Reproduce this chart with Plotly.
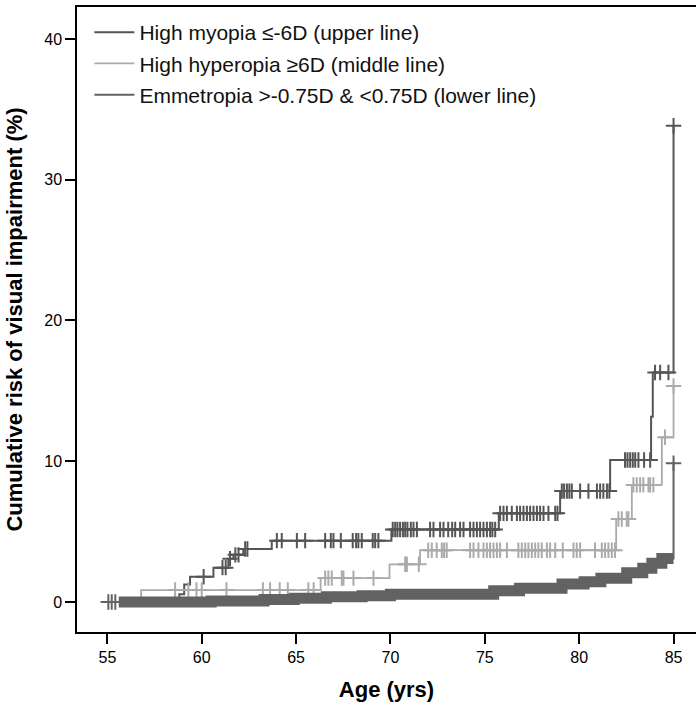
import plotly.graph_objects as go

# ---- data ----
myo_x = [55, 58.81, 59.07, 59.38, 60.62, 61.41, 61.68, 62.2, 63.71, 70.05, 75.74, 78.99, 81.64, 83.81, 83.9, 85.0]
myo_y = [0, 0.55, 1.25, 1.8, 2.44, 3.08, 3.35, 3.77, 4.36, 5.15, 6.3, 7.88, 10.09, 13.17, 16.3, 33.83]
myo_cens = [60.1, 61.1, 61.27, 61.5, 61.78, 61.95, 62.3, 62.42, 63.98, 64.24, 65.04, 65.48, 66.54, 66.84,
            66.98, 67.37, 68.0, 68.18, 68.3, 68.48, 69.06, 69.19, 69.36, 70.12, 70.25, 70.37, 70.51, 70.66,
            70.78, 70.9, 71.08, 71.22, 71.4, 72.1, 72.28, 72.63, 72.81, 73.06, 73.27, 73.43, 73.69, 73.87,
            74.22, 74.4, 74.58, 74.75, 74.93, 75.11, 75.28, 75.4, 75.55, 75.81, 75.99, 76.17, 76.43, 76.7,
            76.87, 77.05, 77.23, 77.4, 77.58, 77.76, 77.93, 78.11, 78.37, 78.73, 78.85, 79.08, 79.2, 79.35,
            79.48, 79.61, 80.05, 80.49, 80.94, 81.11, 81.28, 81.47, 81.6, 82.43, 82.56, 82.7, 82.84, 82.97,
            83.14, 83.44, 83.76, 84.02, 84.29, 84.73, 85.0]

hyp_x = [55, 56.79, 66.3, 69.95, 71.57, 81.96, 82.79, 84.38, 85.0]
hyp_y = [0, 0.85, 1.7, 2.68, 3.68, 5.9, 8.32, 11.7, 15.35]
hyp_cens = [58.59, 59.29, 59.72, 60.0, 61.31, 63.24, 63.62, 64.13, 64.56, 65.65, 65.93, 66.54, 66.71, 66.89,
            67.42, 67.51, 68.04, 69.1, 70.78, 70.87, 71.5, 72.0, 72.19, 72.45, 72.72, 72.84, 72.98, 74.22,
            74.4, 74.66, 74.93, 75.11, 75.28, 75.46, 75.64, 75.81, 76.17, 76.78, 76.96, 77.14, 77.31, 77.49,
            77.67, 77.84, 78.02, 78.29, 78.46, 78.73, 79.13, 79.7, 79.87, 80.05, 80.84, 81.2, 81.37, 81.55,
            81.73, 81.9, 82.08, 82.26, 82.52, 82.61, 82.87, 83.05, 83.23, 83.4, 83.67, 83.76, 83.93, 84.55, 85.0]

emm_x = [55, 60.5, 63.3, 64.9, 66.6, 68.5, 70.0, 75.47, 76.84, 79.09, 80.26, 81.15, 82.52, 83.37, 83.85, 84.38, 85.0]
emm_y = [0, 0.08, 0.17, 0.26, 0.38, 0.45, 0.55, 0.8, 0.97, 1.28, 1.44, 1.68, 2.08, 2.39, 2.75, 3.1, 9.86]
emm_cens = [55.05, 55.23, 55.42, 85.0]
emm_dense_from = 55.6   # censoring so dense from here that marks merge into a band
emm_dense_to = 85.0

names = ["High myopia \u2264-6D (upper line)",
         "High hyperopia \u22656D (middle line)",
         "Emmetropia >-0.75D & <0.75D (lower line)"]
x_ticks = [55, 60, 65, 70, 75, 80, 85]
y_ticks = [0, 10, 20, 30, 40]

FONT = "Arial, 'Liberation Sans', Helvetica, sans-serif"


def step_at(xs, ys, t):
    v = ys[0]
    for a, b in zip(xs, ys):
        if a <= t:
            v = b
    return v


fig = go.Figure()

series = [
    (myo_x, myo_y, myo_cens, "#555555", 2.0),
    (hyp_x, hyp_y, hyp_cens, "#ababab", 1.8),
    (emm_x, emm_y, emm_cens, "#626262", 2.0),
]

for i, (xs, ys, cens, col, w) in enumerate(series):
    fig.add_trace(go.Scatter(
        x=xs, y=ys, mode="lines", line=dict(shape="hv", color=col, width=w),
        name=names[i], legendgroup=f"g{i}", showlegend=True, hoverinfo="skip"))
    fig.add_trace(go.Scatter(
        x=cens, y=[step_at(xs, ys, t) for t in cens], mode="markers",
        marker=dict(symbol="cross-thin", size=11, line=dict(color=col, width=2)),
        legendgroup=f"g{i}", showlegend=False, hoverinfo="skip"))

# dense band of emmetropia censor marks
bx = [emm_dense_from] + [x for x in emm_x if emm_dense_from < x < emm_dense_to] + [emm_dense_to]
by = [step_at(emm_x, emm_y, emm_dense_from)] + [y for x, y in zip(emm_x, emm_y) if emm_dense_from < x < emm_dense_to]
by = by + [by[-1]]
fig.add_trace(go.Scatter(
    x=bx, y=by, mode="lines", line=dict(shape="hv", color="#626262", width=11),
    legendgroup="g2", showlegend=False, hoverinfo="skip"))

fig.update_layout(
    width=696, height=705,
    margin=dict(l=77, r=0, t=7, b=73),
    paper_bgcolor="white", plot_bgcolor="white",
    font=dict(family=FONT, color="black", size=16),
    showlegend=True,
    legend=dict(x=0.02, y=0.992, xanchor="left", yanchor="top",
                font=dict(size=21, color="#111111"),
                bgcolor="rgba(0,0,0,0)", tracegroupgap=1, itemwidth=40),
    xaxis=dict(range=[53.39, 86.19], tickvals=x_ticks, ticks="outside", ticklen=10, tickwidth=2,
               tickcolor="black", showline=True, linecolor="black", linewidth=1.5, mirror=True,
               showgrid=False, zeroline=False,
               tickfont=dict(size=16),
               title=dict(text="<b>Age (yrs)</b>", font=dict(size=22), standoff=17)),
    yaxis=dict(range=[-2.13, 42.27], tickvals=y_ticks, ticks="outside", ticklen=10, tickwidth=2,
               tickcolor="black", showline=True, linecolor="black", linewidth=1.5,
               showgrid=False, zeroline=False,
               tickfont=dict(size=16),
               title=dict(text="<b>Cumulative risk of visual impairment (%)</b>", font=dict(size=22), standoff=16)),
)

fig.write_html("out.html")
